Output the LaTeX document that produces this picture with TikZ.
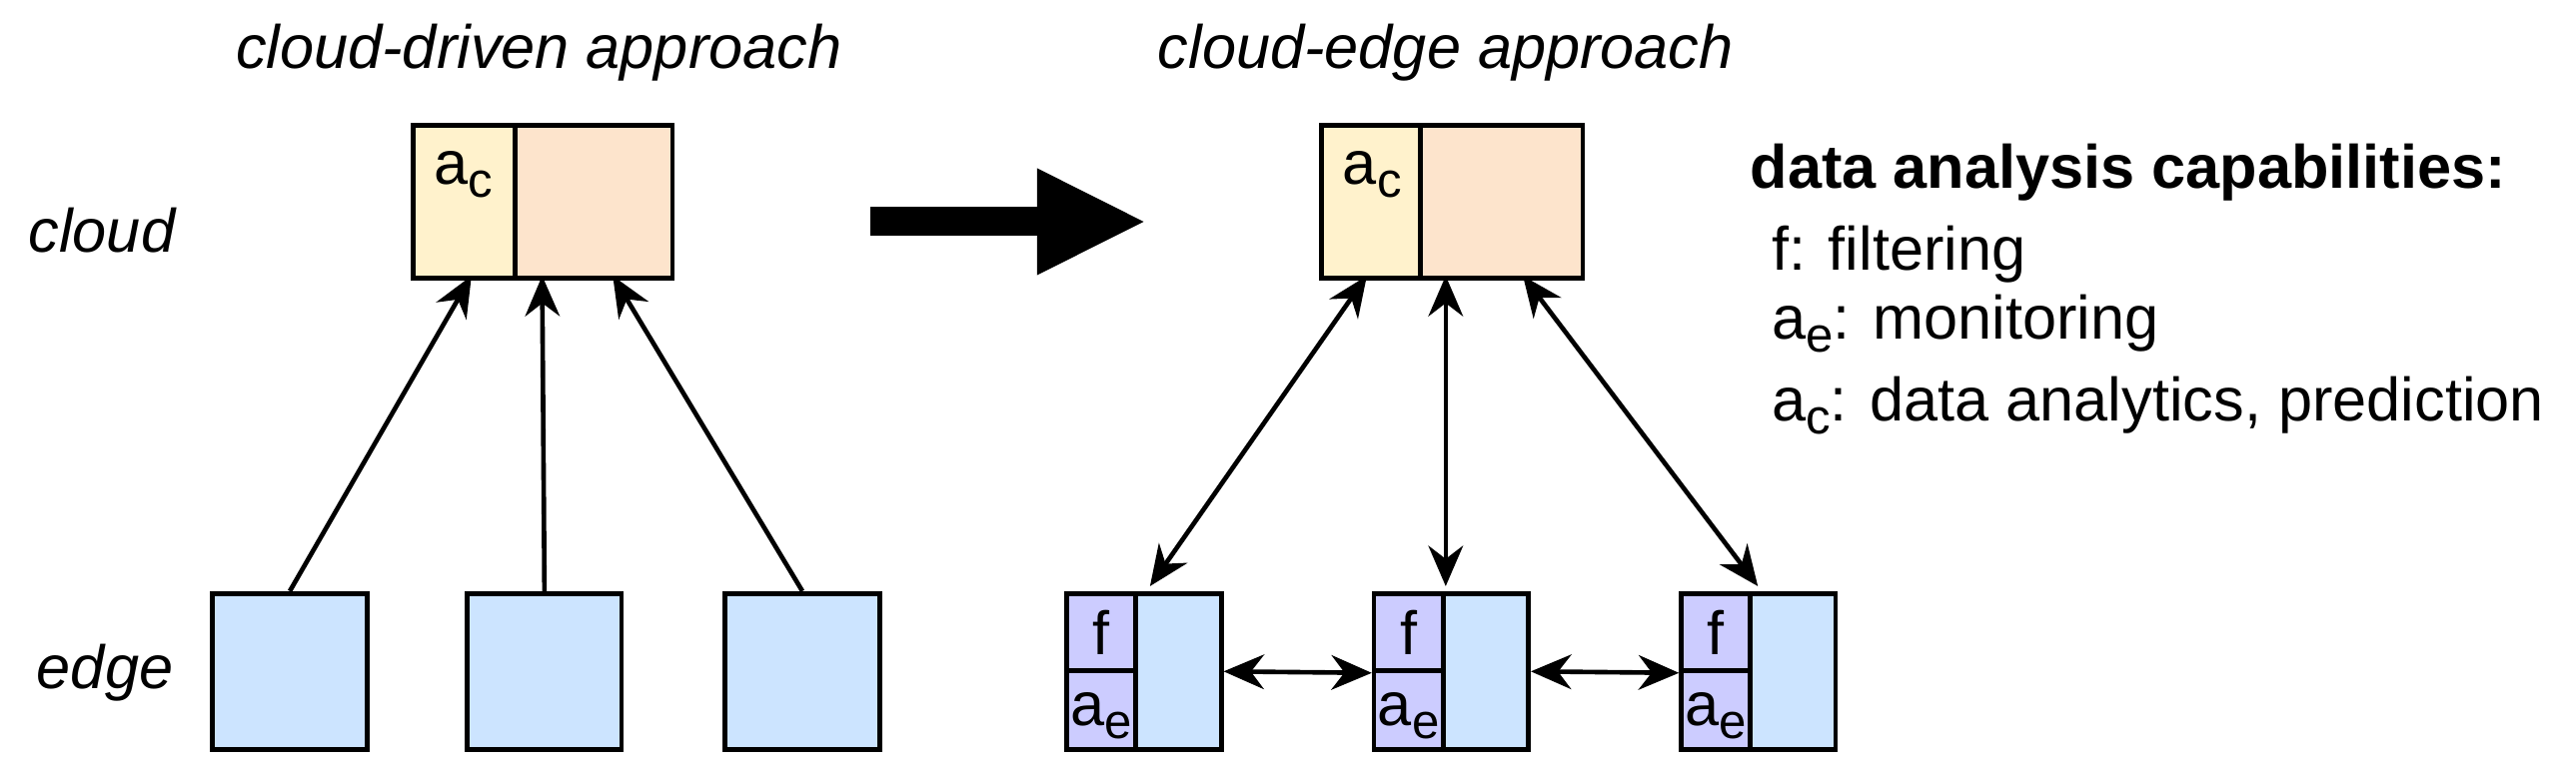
\documentclass[tikz,border=0pt]{standalone}
\usepackage{fontspec}
\setmainfont{Liberation Sans}
\usetikzlibrary{arrows.meta}

\definecolor{yel}{HTML}{FFF2CC}
\definecolor{ora}{HTML}{FDE4CC}
\definecolor{blu}{HTML}{CCE4FF}
\definecolor{pur}{HTML}{CCCCFF}

\newcommand{\sbs}[1]{\raisebox{-0.4ex}{\fontsize{8.5}{9}\selectfont #1}}

\tikzset{
  box/.style={draw,thick,inner sep=0pt,anchor=north west},
  lbl/.style={font=\fontsize{10.6}{12}\selectfont},
  arr/.style={thick,-{Stealth[length=7pt,width=6pt]}},
  darr/.style={thick,{Stealth[length=7pt,width=6pt]}-{Stealth[length=7pt,width=6pt]}}
}

\begin{document}
\begin{tikzpicture}[x=0.01cm,y=-0.01cm]
	\useasboundingbox (0,0) rectangle (1568,470);

	% titles and row labels
	\node[lbl,font=\fontsize{10.6}{12}\selectfont\itshape] (t1) at (328,32) {cloud-driven approach};
	\node[lbl,font=\fontsize{10.6}{12}\selectfont\itshape] (t2) at (880,32) {cloud-edge approach};
	\node[lbl,font=\fontsize{10.6}{12}\selectfont\itshape,anchor=west] (rc) at (5,140) {cloud};
	\node[lbl,font=\fontsize{10.6}{12}\selectfont\itshape,anchor=west] (re) at (10,410) {edge};

	% cloud-driven side
	\node[box,fill=yel,minimum width=62*0.01cm,minimum height=93*0.01cm] (ly) at (250,75) {};
	\node[box,fill=ora,minimum width=96*0.01cm,minimum height=93*0.01cm] (lo) at (312,75) {};
	\node[lbl,anchor=north west] at (252,80) {a\sbs{c}};
	\foreach \x/\n in {128/l1,283/l2,440/l3}
		\node[box,fill=blu,minimum width=94*0.01cm,minimum height=95*0.01cm] (\n) at (\x,360) {};
	\coordinate (lt1) at (287,168);
	\coordinate (lt2) at (330,168);
	\coordinate (lt3) at (373,168);
	\draw[arr] (l1.north) -- (lt1);
	\draw[arr] (l2.north) -- (lt2);
	\draw[arr] (l3.north) -- (lt3);

	% transition
	\coordinate (g1) at (530,135);
	\coordinate (g2) at (698,135);
	\draw[line width=5pt,-{Triangle[length=19pt,width=17pt]}] (g1) -- (g2);

	% cloud-edge side
	\node[box,fill=yel,minimum width=60*0.01cm,minimum height=93*0.01cm] (ry) at (803,75) {};
	\node[box,fill=ora,minimum width=99*0.01cm,minimum height=93*0.01cm] (ro) at (863,75) {};
	\node[lbl,anchor=north west] at (805,80) {a\sbs{c}};
	\foreach \x/\n in {648/r1,835/r2,1022/r3} {
		\node[box,fill=blu,minimum width=94*0.01cm,minimum height=95*0.01cm] (\n) at (\x,360) {};
		\node[box,fill=pur,minimum width=42*0.01cm,minimum height=47*0.01cm] (\n f) at (\x,360) {};
		\node[box,fill=pur,minimum width=42*0.01cm,minimum height=48*0.01cm] (\n a) at (\x,407) {};
		\node[lbl] at (\n f.center) {f};
		\node[lbl] at ([yshift=-1pt]\n a.center) {a\sbs{e}};
	}
	\coordinate (rt1) at (832,168);
	\coordinate (rt2) at (880,168);
	\coordinate (rt3) at (927,168);
	\coordinate (rb1) at (700,357);
	\coordinate (rb2) at (880,357);
	\coordinate (rb3) at (1070,357);
	\draw[darr] (rt1) -- (rb1);
	\draw[darr] (rt2) -- (rb2);
	\draw[darr] (rt3) -- (rb3);
	\draw[darr] (r1.east) -- (r2f.south west);
	\draw[darr] (r2.east) -- (r3f.south west);

	% legend
	\node[lbl,font=\fontsize{10.6}{12}\selectfont\bfseries,anchor=west] (lg) at (1053,105) {data analysis capabilities:};
	\node[lbl,anchor=west] (lg1) at (1066,155) {f: filtering};
	\node[lbl,anchor=west] (lg2) at (1066,197) {a\sbs{e}: monitoring};
	\node[lbl,anchor=west] (lg3) at (1066,247) {a\sbs{c}: data analytics, prediction};
\end{tikzpicture}
\end{document}
